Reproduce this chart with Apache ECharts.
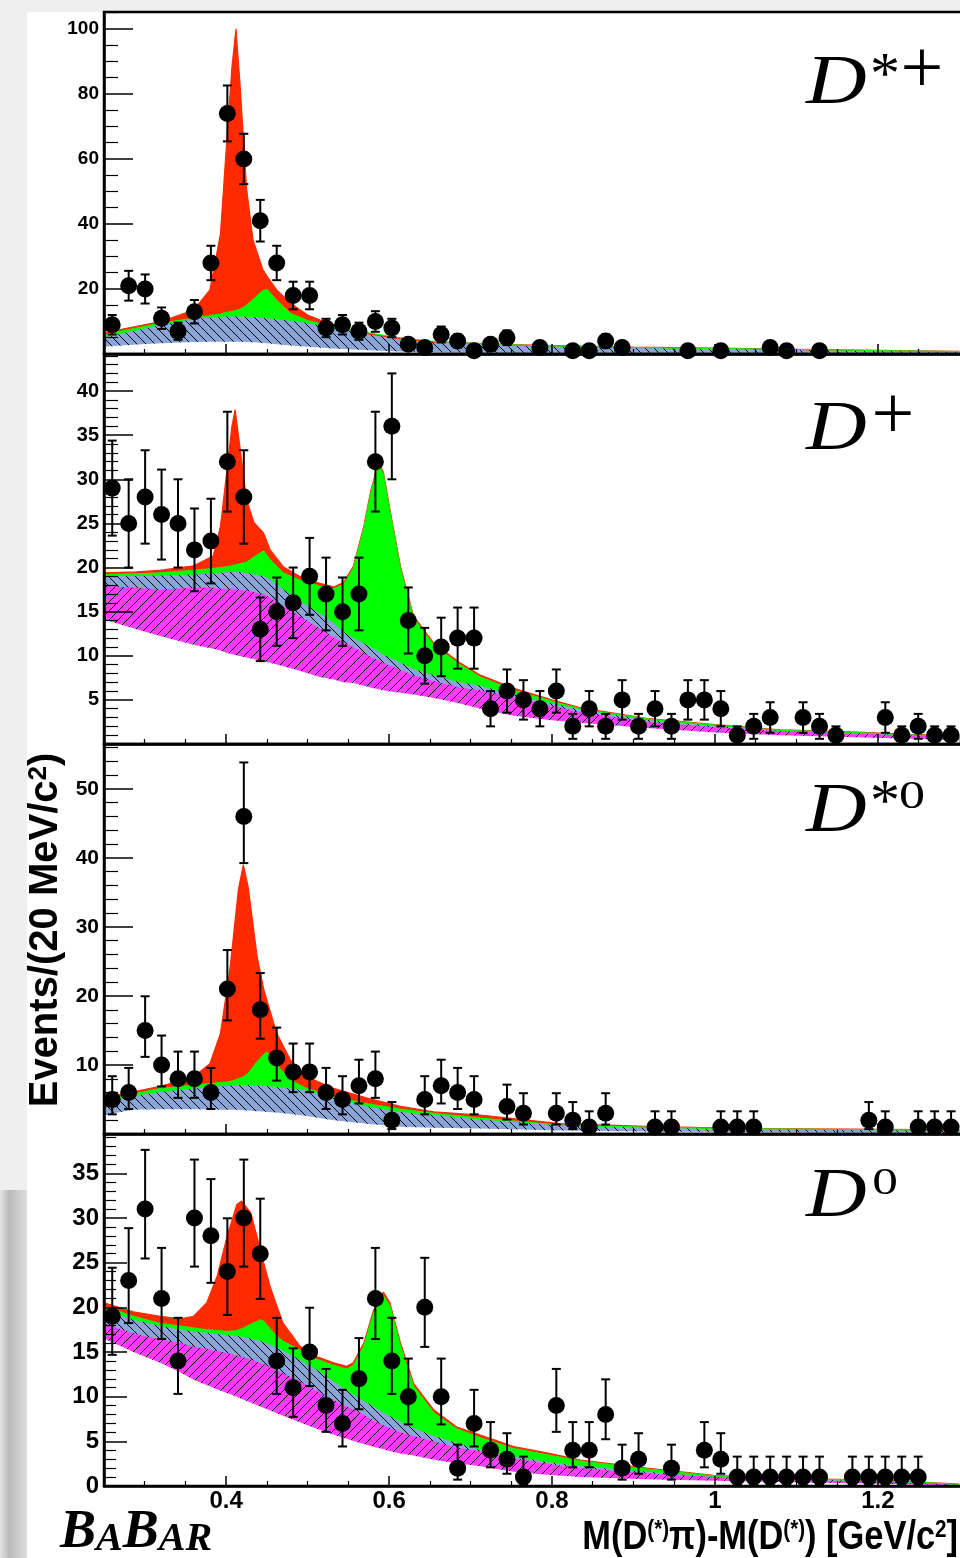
<!DOCTYPE html>
<html>
<head>
<meta charset="utf-8">
<script src="https://cdn.jsdelivr.net/npm/echarts@6/dist/echarts.min.js"></script>
<style>
  html, body { margin: 0; padding: 0; background: #efefef; }
  #chart { width: 960px; height: 1558px; }
</style>
</head>
<body>
<div id="chart"></div>
<script>
// binning: 52 bins between 0.25 and 1.30 GeV/c2
const binLow = 0.25;
const binHigh = 1.30;
const binCount = 52;
const xAxisMax = 1.3033;

const xMajorTicks = [0.4, 0.6, 0.8, 1.0, 1.2];
const xMinorTicks = [0.3, 0.35, 0.45, 0.5, 0.55, 0.65, 0.7, 0.75, 0.85, 0.9, 0.95, 1.05, 1.1, 1.15, 1.25];

// ---- D*+ ----
const dstarPlusCounts = [9, 21, 20, 11, 7, 13, 28, 74, 60, 41, 28, 18, 18, 8, 9, 7, 10, 8, 3, 2, 6, 4, 1, 3, 5, 0,
  2, 0, 1, 1, 4, 2, 0, 0, 0, 1, 0, 1, 0, 0, 2, 1, 0, 1, 0, 0, 0, 0, 0, 0, 0, 0];
const dstarPlusFitX = [0.25, 0.29, 0.32, 0.36, 0.38, 0.393, 0.40, 0.407, 0.412, 0.417, 0.425, 0.433, 0.445, 0.45,
  0.462, 0.479, 0.50, 0.53, 0.57, 0.61, 0.65, 0.71, 0.75, 0.80, 0.90, 1.00, 1.10, 1.20, 1.30];
const dstarPlusTotal = [6.5, 8.5, 10, 13.5, 19.7, 37, 63, 88, 100, 83, 51, 35, 26, 24, 19.7, 15.6, 12, 9, 6.4, 4.8,
  3.8, 3.3, 2.9, 2.6, 2.1, 1.8, 1.45, 1.1, 0.8];
const dstarPlusGreen = [6.0, 8.0, 9.5, 11, 11.8, 12.3, 12.8, 13.1, 13.4, 13.8, 15.0, 16.8, 19.5, 19.9, 16.6, 12.5,
  10.3, 8.5, 6.7, 5.1, 4.0, 3.2, 2.8, 2.5, 2.0, 1.7, 1.4, 1.05, 0.75];
const dstarPlusBlue = [5.1, 7.3, 8.9, 10.8, 11.2, 11.4, 11.5, 11.5, 11.5, 11.5, 11.4, 11.3, 11.1, 11.0, 10.7, 10.2,
  9.5, 8.1, 6.6, 4.9, 3.8, 3.1, 2.7, 2.4, 1.9, 1.6, 1.3, 1.0, 0.7];
const dstarPlusBase = [2.2, 2.9, 3.3, 3.7, 3.8, 3.8, 3.8, 3.8, 3.8, 3.75, 3.7, 3.6, 3.4, 3.3, 3.0, 2.6, 2.2, 1.7,
  1.2, 0.8, 0.5, 0.3, 0.3, 0.3, 0.3, 0.3, 0.25, 0.2, 0.15];
const dstarPlusYLabels = [20, 40, 60, 80, 100];

// ---- D+ ----
const dPlusCounts = [29, 25, 28, 26, 25, 22, 23, 32, 28, 13, 15, 16, 19, 17, 15, 17, 32, 36, 14, 10, 11, 12, 12, 4,
  6, 5, 4, 6, 2, 4, 2, 5, 2, 4, 2, 5, 5, 4, 1, 2, 3, 0, 3, 2, 1, 0, 0, 3, 1, 2, 1, 1];
const dPlusFitX = [0.25, 0.29, 0.32, 0.36, 0.384, 0.393, 0.401, 0.407, 0.411, 0.415, 0.425, 0.434, 0.446, 0.454,
  0.47, 0.49, 0.515, 0.532, 0.544, 0.556, 0.569, 0.577, 0.587, 0.593, 0.601, 0.614, 0.63, 0.655, 0.687, 0.712,
  0.753, 0.80, 0.835, 0.916, 1.0, 1.08, 1.16, 1.24, 1.30];
const dPlusTotal = [19.4, 19.5, 19.7, 20.2, 21.3, 24.7, 31.1, 36.0, 37.9, 35.0, 27.7, 25.1, 23.9, 22.0, 20.1, 19.0,
  18.2, 17.8, 18.3, 20.1, 24.7, 28.5, 31.9, 30.8, 26.6, 20.1, 14.5, 11.4, 9.2, 7.8, 6.3, 5.0, 4.1, 2.9, 2.2, 1.6,
  1.4, 1.1, 0.9];
const dPlusGreen = [19.2, 19.3, 19.4, 19.7, 19.9, 20.0, 20.1, 20.2, 20.3, 20.4, 20.6, 21.2, 21.9, 20.9, 19.4, 18.6,
  17.9, 17.6, 18.1, 19.9, 24.5, 28.3, 31.7, 30.6, 26.4, 19.9, 14.3, 11.2, 9.0, 7.6, 6.1, 4.85, 4.0, 2.85, 2.15,
  1.55, 1.35, 1.05, 0.85];
const dPlusBlue = [19.0, 19.05, 19.1, 19.2, 19.3, 19.4, 19.5, 19.5, 19.5, 19.5, 19.4, 19.2, 19.0, 18.7, 17.5, 16.3,
  14.8, 13.7, 12.7, 12.0, 11.4, 11.0, 10.5, 10.1, 9.8, 9.2, 8.5, 7.8, 7.0, 6.6, 5.6, 4.6, 3.9, 2.75, 2.05, 1.5,
  1.3, 1.0, 0.8];
const dPlusMagenta = [17.9, 17.7, 17.5, 17.7, 17.7, 17.6, 17.6, 17.6, 17.5, 17.5, 17.4, 17.2, 17.0, 16.6, 15.6,
  14.5, 13.1, 12.1, 11.5, 11.0, 10.3, 9.9, 9.5, 9.2, 8.9, 8.4, 7.8, 7.1, 6.4, 6.1, 5.3, 4.3, 3.6, 2.5, 1.9, 1.45,
  1.25, 0.95, 0.75];
const dPlusBase = [14.1, 13.0, 12.2, 11.25, 10.8, 10.6, 10.3, 10.2, 10.1, 10.0, 9.8, 9.6, 9.35, 9.2, 8.8, 8.3, 7.6,
  7.3, 7.0, 6.9, 6.6, 6.4, 6.2, 6.1, 5.95, 5.8, 5.6, 5.2, 4.6, 4.0, 3.2, 2.7, 2.4, 1.8, 1.3, 1.0, 0.8, 0.6, 0.45];
const dPlusYLabels = [5, 10, 15, 20, 25, 30, 35, 40];

// ---- D*0 ----
const dstarZeroCounts = [5, 6, 15, 10, 8, 8, 6, 21, 46, 18, 11, 9, 9, 6, 5, 7, 8, 2, 0, 5, 7, 6, 5, 0, 4, 3, 0, 3,
  2, 1, 3, 0, 0, 1, 1, 0, 0, 1, 1, 1, 0, 0, 0, 0, 0, 0, 2, 1, 0, 1, 1, 1];
const dstarZeroFitX = [0.25, 0.286, 0.319, 0.36, 0.38, 0.393, 0.405, 0.415, 0.421, 0.427, 0.438, 0.446, 0.45,
  0.462, 0.479, 0.499, 0.532, 0.573, 0.614, 0.655, 0.712, 0.81, 0.916, 1.04, 1.16, 1.30];
const dstarZeroTotal = [5.2, 6.1, 6.9, 8.3, 10.2, 14.6, 24.3, 35.4, 39.0, 35.8, 25.7, 21.0, 19.4, 14.6, 10.7, 8.3,
  6.6, 5.2, 4.0, 3.2, 2.75, 1.5, 1.1, 0.8, 0.7, 0.6];
const dstarZeroGreen = [4.9, 5.8, 6.6, 7.1, 7.3, 7.45, 7.6, 8.0, 8.3, 8.8, 10.5, 11.5, 11.9, 10.0, 7.8, 6.6, 5.4,
  4.4, 3.6, 3.0, 2.3, 1.3, 1.0, 0.75, 0.65, 0.55];
const dstarZeroBlue = [4.7, 5.5, 6.1, 6.6, 6.8, 6.9, 7.0, 7.05, 7.1, 7.1, 7.0, 6.95, 6.9, 6.8, 6.6, 6.3, 5.2, 4.0,
  3.2, 2.75, 2.1, 1.25, 0.95, 0.7, 0.6, 0.5];
const dstarZeroBase = [2.75, 3.5, 3.6, 3.6, 3.55, 3.5, 3.5, 3.5, 3.45, 3.4, 3.3, 3.25, 3.2, 3.1, 2.9, 2.6, 2.0, 1.5,
  1.06, 0.9, 0.8, 0.5, 0.35, 0.25, 0.2, 0.15];
const dstarZeroYLabels = [10, 20, 30, 40, 50];

// ---- D0 ----
const dZeroCounts = [19, 23, 31, 21, 14, 30, 28, 24, 30, 26, 14, 11, 15, 9, 7, 12, 21, 14, 10, 20, 10, 2, 7, 4, 3,
  1, 0, 9, 4, 4, 8, 2, 3, 0, 2, 0, 4, 3, 1, 1, 1, 1, 1, 1, 0, 1, 1, 1, 1, 1, 0, 0];
const dZeroFitX = [0.25, 0.286, 0.319, 0.344, 0.36, 0.376, 0.389, 0.401, 0.413, 0.419, 0.43, 0.442, 0.446, 0.454,
  0.462, 0.47, 0.491, 0.511, 0.532, 0.548, 0.556, 0.569, 0.581, 0.593, 0.601, 0.614, 0.63, 0.655, 0.683, 0.712,
  0.753, 0.794, 0.835, 0.916, 0.998, 1.08, 1.203, 1.30];
const dZeroTotal = [20.5, 19.5, 19.0, 18.7, 19.0, 20.5, 23.5, 27.9, 31.5, 31.9, 30.6, 26.5, 25.0, 22.3, 20.2, 18.2,
  15.6, 14.5, 13.8, 13.4, 13.8, 16.0, 19.7, 21.7, 20.5, 16.0, 11.5, 8.5, 6.6, 5.7, 4.4, 3.7, 2.9, 2.0, 1.2, 0.86,
  0.67, 0.2];
const dZeroGreen = [20.1, 19.0, 18.2, 17.9, 17.7, 17.5, 17.4, 17.3, 17.4, 17.6, 18.1, 18.6, 18.5, 17.6, 16.8, 16.2,
  15.2, 14.2, 13.5, 13.1, 13.5, 15.7, 19.4, 21.3, 20.2, 15.7, 11.2, 8.2, 6.4, 5.4, 4.2, 3.5, 2.8, 1.9, 1.15, 0.82,
  0.64, 0.18];
const dZeroBlue = [19.7, 18.6, 17.9, 17.5, 17.3, 17.15, 17.0, 16.9, 16.8, 16.7, 16.5, 16.2, 16.1, 15.8, 15.5, 15.1,
  14.1, 13.0, 11.7, 10.7, 10.2, 9.5, 8.9, 8.2, 7.8, 7.2, 6.5, 5.6, 4.8, 4.0, 3.3, 2.7, 2.2, 1.6, 1.0, 0.75, 0.55,
  0.15];
const dZeroMagenta = [18.2, 17.1, 16.4, 16.0, 15.6, 15.35, 15.1, 14.9, 14.6, 14.45, 14.2, 13.8, 13.65, 13.3, 12.95,
  12.6, 11.7, 10.7, 9.6, 8.9, 8.55, 8.0, 7.3, 6.8, 6.5, 6.0, 5.6, 5.0, 4.3, 3.85, 3.1, 2.5, 2.0, 1.4, 1.0, 0.7,
  0.45, 0.12];
const dZeroBase = [16.5, 15.0, 13.8, 12.7, 11.9, 11.3, 10.8, 10.4, 10.0, 9.75, 9.35, 8.9, 8.75, 8.45, 8.15, 7.85,
  7.1, 6.4, 5.75, 5.3, 5.05, 4.7, 4.4, 4.1, 3.9, 3.65, 3.4, 2.95, 2.55, 2.2, 1.6, 1.25, 1.0, 0.75, 0.6, 0.45, 0.25,
  0.05];
const dZeroYLabels = [0, 5, 10, 15, 20, 25, 30, 35];

// colours
const RED = '#ff2a00';
const GREEN = '#00ff00';
const BLUE = '#8aa5d8';
const MAGENTA = '#ff3cff';
const AXIS_FONT = 'Liberation Sans';
const SERIF = 'Liberation Serif';

// diagonal hatch pattern, dir '\\' or '/'
function hatch(fill, dir) {
  const s = 9;
  const c = document.createElement('canvas');
  c.width = s; c.height = s;
  const g = c.getContext('2d');
  g.fillStyle = fill;
  g.fillRect(0, 0, s, s);
  g.strokeStyle = '#000';
  g.lineWidth = 1;
  g.beginPath();
  for (const k of [-s, 0, s]) {
    if (dir === '/') { g.moveTo(k, s); g.lineTo(k + s, 0); }
    else { g.moveTo(k, 0); g.lineTo(k + s, s); }
  }
  g.stroke();
  return { image: c, repeat: 'repeat' };
}

// 68% interval on a count: plain sqrt(N) or Poisson (Wilson-Hilferty)
function errorRange(n, mode) {
  if (mode === 'sqrt') {
    const s = Math.sqrt(n);
    return [n - s, n + s];
  }
  const lo = n * Math.pow(1 - 1 / (9 * n) - 1 / (3 * Math.sqrt(n)), 3);
  const m = n + 1;
  const hi = m * Math.pow(1 - 1 / (9 * m) + 1 / (3 * Math.sqrt(m)), 3);
  return [lo, hi];
}

function minorTicks(step, max, majors) {
  const out = [];
  for (let k = 1; k * step <= max + 1e-9; k++) {
    const v = Math.round(k * step * 1000) / 1000;
    if (!majors.includes(v)) out.push(v);
  }
  return out;
}

const binWidth = (binHigh - binLow) / binCount;

const panels = [
  {
    counts: dstarPlusCounts, errors: 'sqrt', fitX: dstarPlusFitX,
    layers: [[dstarPlusTotal, RED, 1.2], [dstarPlusGreen, GREEN, 1], [dstarPlusBlue, hatch(BLUE, '\\'), 0],
      [dstarPlusBase, '#fff', 0]],
    yMax: 105.2, yLabels: dstarPlusYLabels, minorStep: 5, majorLen: 29, minorLen: 14, labelSize: 19,
    top: 12, height: 342
  },
  {
    counts: dPlusCounts, errors: 'sqrt', fitX: dPlusFitX,
    layers: [[dPlusTotal, RED, 1.2], [dPlusGreen, GREEN, 1], [dPlusBlue, hatch(BLUE, '\\'), 0],
      [dPlusMagenta, hatch(MAGENTA, '/'), 0], [dPlusBase, '#fff', 0]],
    yMax: 44.2, yLabels: dPlusYLabels, minorStep: 1, majorLen: 29, minorLen: 14, labelSize: 20,
    top: 354, height: 390
  },
  {
    counts: dstarZeroCounts, errors: 'poisson', fitX: dstarZeroFitX,
    layers: [[dstarZeroTotal, RED, 1.2], [dstarZeroGreen, GREEN, 1], [dstarZeroBlue, hatch(BLUE, '\\'), 0],
      [dstarZeroBase, '#fff', 0]],
    yMax: 56.5, yLabels: dstarZeroYLabels, minorStep: 2, majorLen: 29, minorLen: 14, labelSize: 21,
    top: 744, height: 390
  },
  {
    counts: dZeroCounts, errors: 'poisson', fitX: dZeroFitX,
    layers: [[dZeroTotal, RED, 1.2], [dZeroGreen, GREEN, 1], [dZeroBlue, hatch(BLUE, '\\'), 0],
      [dZeroMagenta, hatch(MAGENTA, '/'), 0], [dZeroBase, '#fff', 0]],
    yMax: 39.4, yLabels: dZeroYLabels, minorStep: 1, majorLen: 23, minorLen: 12, labelSize: 24,
    top: 1134, height: 352
  }
];

const grids = [], xAxes = [], yAxes = [], series = [];

panels.forEach((p, i) => {
  const last = i === panels.length - 1;
  grids.push({
    left: 104, top: p.top, width: 858, height: p.height,
    show: true, borderColor: '#000', borderWidth: 2.5, backgroundColor: 'transparent',
    containLabel: false, outerBoundsMode: 'none', z: 5
  });
  // major x axis
  xAxes.push({
    type: 'value', gridIndex: i, min: binLow, max: xAxisMax, position: 'bottom', z: 5,
    axisLine: { show: true, onZero: false, lineStyle: { color: '#000', width: 2.5 } },
    axisTick: { show: true, inside: true, length: 10, customValues: xMajorTicks,
      lineStyle: { color: '#000', width: 1.5 } },
    axisLabel: { show: last, customValues: xMajorTicks, formatter: v => String(v), color: '#000',
      fontFamily: AXIS_FONT, fontWeight: 'bold', fontSize: 24, margin: 3 },
    splitLine: { show: false }
  });
  // minor x ticks
  xAxes.push({
    type: 'value', gridIndex: i, min: binLow, max: xAxisMax, position: 'bottom', z: 5,
    axisLine: { show: false },
    axisTick: { show: true, inside: true, length: 5, customValues: xMinorTicks,
      lineStyle: { color: '#000', width: 1.2 } },
    axisLabel: { show: false }, splitLine: { show: false }
  });
  const majors = p.yLabels.filter(v => v > 0);
  yAxes.push({
    type: 'value', gridIndex: i, min: 0, max: p.yMax, position: 'left', z: 5,
    axisLine: { show: true, onZero: false, lineStyle: { color: '#000', width: 2.5 } },
    axisTick: { show: true, inside: true, length: p.majorLen, customValues: majors,
      lineStyle: { color: '#000', width: 1.5 } },
    axisLabel: { show: true, customValues: p.yLabels, color: '#000', fontFamily: AXIS_FONT,
      fontWeight: 'bold', fontSize: p.labelSize, margin: 5 },
    splitLine: { show: false }
  });
  yAxes.push({
    type: 'value', gridIndex: i, min: 0, max: p.yMax, position: 'left', z: 5,
    axisLine: { show: false },
    axisTick: { show: true, inside: true, length: p.minorLen,
      customValues: minorTicks(p.minorStep, p.yMax, p.yLabels), lineStyle: { color: '#000', width: 1.2 } },
    axisLabel: { show: false }, splitLine: { show: false }
  });

  const xa = 2 * i, ya = 2 * i;
  p.layers.forEach(([values, color, edge]) => {
    series.push({
      type: 'line', xAxisIndex: xa, yAxisIndex: ya, silent: true, z: 2,
      symbol: 'none', smooth: false,
      data: p.fitX.map((x, j) => [x, values[j]]),
      lineStyle: { width: edge, color: typeof color === 'string' ? color : '#000', opacity: edge ? 1 : 0 },
      areaStyle: { color: color, opacity: 1, origin: 'start' }
    });
  });

  const points = [];
  p.counts.forEach((n, b) => {
    if (n > 0) points.push([binLow + (b + 0.5) * binWidth, n]);
  });

  series.push({
    type: 'custom', xAxisIndex: xa, yAxisIndex: ya, silent: true, z: 6,
    data: points.map(([x, n]) => [x].concat(errorRange(n, p.errors))),
    encode: { x: 0, y: [1, 2] },
    renderItem: (params, api) => {
      const x = api.value(0);
      const top = api.coord([x, api.value(2)]);
      const bot = api.coord([x, api.value(1)]);
      const w = 4.5;
      const style = { stroke: '#000', lineWidth: 2 };
      return {
        type: 'group', children: [
          { type: 'line', shape: { x1: top[0], y1: top[1], x2: bot[0], y2: bot[1] }, style },
          { type: 'line', shape: { x1: top[0] - w, y1: top[1], x2: top[0] + w, y2: top[1] }, style },
          { type: 'line', shape: { x1: bot[0] - w, y1: bot[1], x2: bot[0] + w, y2: bot[1] }, style }
        ]
      };
    }
  });

  series.push({
    type: 'scatter', xAxisIndex: xa, yAxisIndex: ya, silent: true, z: 7,
    symbol: 'circle', symbolSize: 17, itemStyle: { color: '#000', opacity: 1 },
    data: points
  });
});

function dLabel(x, y) {
  return { type: 'text', x: x, y: y, z: 20, scaleX: 1.2,
    style: { text: 'D', font: 'italic 70px "' + SERIF + '"', fill: '#000', align: 'left', verticalAlign: 'middle' } };
}
function sup(text, x, y, size, sx) {
  return { type: 'text', x: x, y: y, z: 20, scaleX: sx || 1,
    style: { text: text, font: size + 'px "' + SERIF + '"', fill: '#000', align: 'center', verticalAlign: 'middle' } };
}

const graphics = [
  { type: 'rect', z: -10, shape: { x: 27, y: 12, width: 933, height: 1546 }, style: { fill: '#fff' } },
  { type: 'rect', z: -10, shape: { x: 0, y: 1190, width: 27, height: 368 },
    style: { fill: new echarts.graphic.LinearGradient(0, 0, 1, 0, [
      { offset: 0, color: '#e4e4e4' }, { offset: 0.35, color: '#b9b9b9' }, { offset: 1, color: '#dedede' }]) } },
  // panel labels
  dLabel(806, 84.5), sup('*', 885, 77, 60), sup('+', 922, 72, 76),
  dLabel(806, 430.5), sup('+', 893, 418, 76),
  dLabel(806, 813), sup('*', 885, 804, 60), sup('0', 912, 797, 40, 1.3),
  dLabel(806, 1198), sup('0', 885, 1184, 38, 1.35),
  // y title
  { type: 'text', x: 46, y: 930, rotation: Math.PI / 2, z: 20,
    style: { text: '{t|Events/(20 MeV/c}{s|2}{t|)}', align: 'center', verticalAlign: 'middle',
      rich: {
        t: { fontFamily: AXIS_FONT, fontWeight: 'bold', fontSize: 40, color: '#000' },
        s: { fontFamily: AXIS_FONT, fontWeight: 'bold', fontSize: 26, color: '#000', verticalAlign: 'top' }
      } } },
  // x title
  { type: 'text', x: 958, y: 1538, scaleX: 0.86, z: 20,
    style: { text: '{t|M(D}{s|(*)}{t|π)-M(D}{s|(*)}{t|) [GeV/c}{s|2}{t|]}', align: 'right', verticalAlign: 'middle',
      rich: {
        t: { fontFamily: AXIS_FONT, fontWeight: 'bold', fontSize: 40, color: '#000' },
        s: { fontFamily: AXIS_FONT, fontWeight: 'bold', fontSize: 24, color: '#000', verticalAlign: 'top' }
      } } },
  // BaBar logo
  { type: 'text', x: 60, y: 1533, z: 20,
    style: { text: '{b|B}{a|A}{b|B}{a|AR}', align: 'left', verticalAlign: 'middle',
      rich: {
        b: { fontFamily: SERIF, fontStyle: 'italic', fontWeight: 'bold', fontSize: 54, color: '#000' },
        a: { fontFamily: SERIF, fontStyle: 'italic', fontWeight: 'bold', fontSize: 40, color: '#000', verticalAlign: 'bottom' }
      } } }
];

const chart = echarts.init(document.getElementById('chart'), null, { renderer: 'canvas', width: 960, height: 1558 });
chart.setOption({
  animation: false,
  backgroundColor: '#efefef',
  grid: grids,
  xAxis: xAxes,
  yAxis: yAxes,
  series: series,
  graphic: graphics
});
</script>
</body>
</html>
